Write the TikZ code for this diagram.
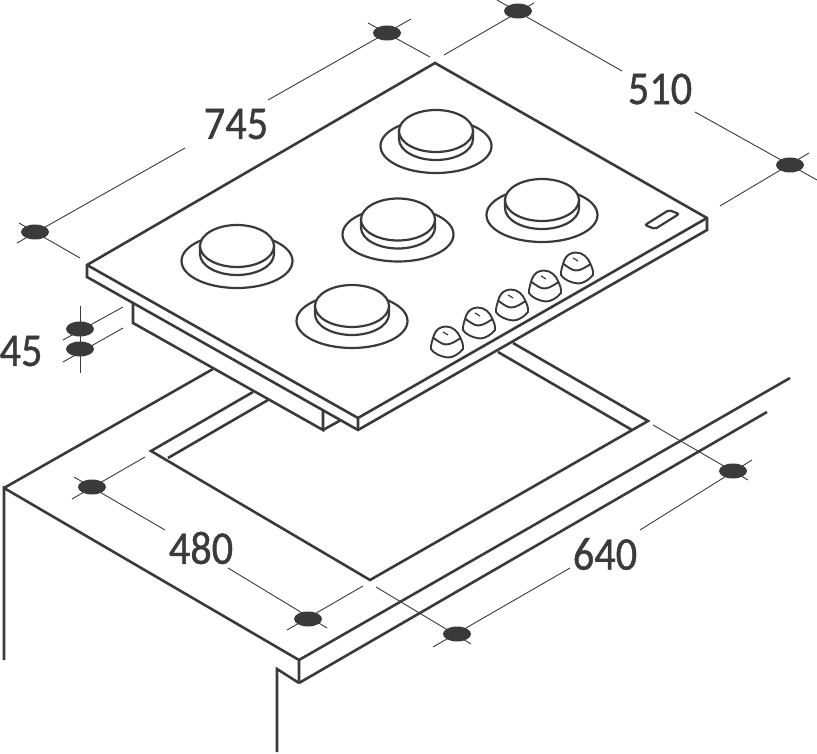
\documentclass[tikz,border=0pt]{standalone}
\usepackage{fontspec}
\usetikzlibrary{shapes.geometric}
\setmainfont{Carlito}[FakeStretch=0.9,FakeBold=0.8]
\definecolor{ink}{HTML}{3A3A3A}
\tikzset{
  main/.style={draw=ink,line width=2.6pt,line join=miter,line cap=butt},
  ring/.style={draw=ink,line width=2.2pt,fill=white},
  thin/.style={draw=ink,line width=0.9pt},
  dimdot/.style={ellipse,fill=ink,minimum width=28pt,minimum height=15pt,inner sep=0pt},
  dimtext/.style={text=ink,font=\fontsize{47}{47}\selectfont,inner sep=0pt},
  burner/.pic={
    \draw[ring] (0,15) ellipse [x radius=55.5pt,y radius=27pt];
    \draw[ring] (-37,0) -- (-37,8) arc[start angle=180,end angle=360,x radius=37pt,y radius=21pt] -- (37,0) -- cycle;
    \draw[ring] (0,0) ellipse [x radius=37pt,y radius=21pt];
  },
  knob/.pic={
    \draw[ring,line width=1.9pt] (-13,-7) .. controls (-11,-13) and (-6,-15.5) .. (-1,-15.5)
      .. controls (6,-15.5) and (11,-10) .. (13,-5)
      .. controls (15,-1) and (16.5,3) .. (16,7)
      .. controls (12,12) and (6,15.5) .. (1,15.5)
      .. controls (-6,15) and (-14,11) .. (-16,7)
      .. controls (-16.5,3) and (-14.5,-2) .. (-13,-7) -- cycle;
    \draw[draw=ink,line width=1.9pt] (-13.5,-4) .. controls (-9,-1) and (-5,2.5) .. (-1,2.5) .. controls (4,2.5) and (9,-1) .. (13.5,-4);
    \draw[draw=ink,line width=1.2pt] (-4,-10) -- (1,-7);
  },
}
\begin{document}
\begin{tikzpicture}[x=1pt,y=-1pt]
\useasboundingbox (0,0) rectangle (817,754);
% dimension coordinates
\node[dimdot] (d745a) at (387,33) {};
\node[dimdot] (d745b) at (35,232) {};
\node[dimdot] (d510a) at (518,11) {};
\node[dimdot] (d510b) at (790,165) {};
\node[dimdot] (d45a) at (80,329) {};
\node[dimdot] (d45b) at (80,349) {};
\node[dimdot] (d480a) at (92,487) {};
\node[dimdot] (d480b) at (308,619) {};
\node[dimdot] (d640a) at (457,634) {};
\node[dimdot] (d640b) at (733,471) {};
\node[dimtext] (t745) at (236,124) {745};
\node[dimtext] (t510) at (660,89) {510};
\node[dimtext] (t45) at (21,351) {45};
\node[dimtext] (t480) at (201,548) {480};
\node[dimtext] (t640) at (605,554) {640};
% dimension lines
\draw[thin] (411,19) -- (268,100) (185,148) -- (17,243);
\draw[thin] (368,23) -- (430,57) (19,223) -- (80,258);
\draw[thin] (497,0) -- (622,71) (695,112) -- (817,180);
\draw[thin] (444,55) -- (534,3) (720,206) -- (809,153);
\draw[thin] (80,306) -- (80,373);
\draw[thin] (63,340) -- (123,307) (63,362) -- (123,328);
\draw[thin] (74,477) -- (165,530) (228,568) -- (327,628);
\draw[thin] (72,499) -- (145,457) (287,630) -- (363,586);
\draw[thin] (433,647) -- (570,568) (640,530) -- (752,460);
\draw[thin] (376,587) -- (471,644) (653,425) -- (748,480);
% worktop
\coordinate (wl) at (4,488);
\coordinate (wf) at (299,660);
\coordinate (wb) at (299,683);
\draw[main] (4,660) -- (wl) -- (wf) -- (wb);
\draw[main] (wl) -- (213,369);
\draw[main] (wf) -- (790,378);
\draw[main] (wb) -- (767,412);
\draw[main] (277,752) -- (277,669) -- (wb);
% cut-out
\draw[main] (253,392) -- (151,451) -- (370,580) -- (648,421) -- (513,343);
\draw[main] (268,400) -- (168,458);
\draw[main] (632,430) -- (498,352);
% under-box
\draw[main] (133,303) -- (133,323) -- (323,430) -- (323,410);
\draw[main] (323,430) -- (341,420);
% hob
\coordinate (ha) at (435,63);
\coordinate (hr) at (707,218);
\coordinate (hf) at (358,418);
\coordinate (hl) at (87,265);
\draw[main,fill=white] (hl) -- (ha) -- (hr) -- (707,230) -- (358,430) -- (87,277) -- cycle;
\draw[main] (hl) -- (hf) -- (hr) (hf) -- (358,430);
% burners
\pic at (237,246) {burner};
\pic at (398,219.5) {burner};
\pic at (436,131) {burner};
\pic at (542,200) {burner};
\pic at (352,306) {burner};
% knobs
\foreach \kx/\ky in {447/342,479/323,512/305,545/286,577/268}{
  \pic at (\kx,\ky) {knob};
}
% slot
\draw[ring,rounded corners=2pt] (645,225) -- (669,210) -- (679,214) -- (655,229) -- cycle;
\end{tikzpicture}
\end{document}
